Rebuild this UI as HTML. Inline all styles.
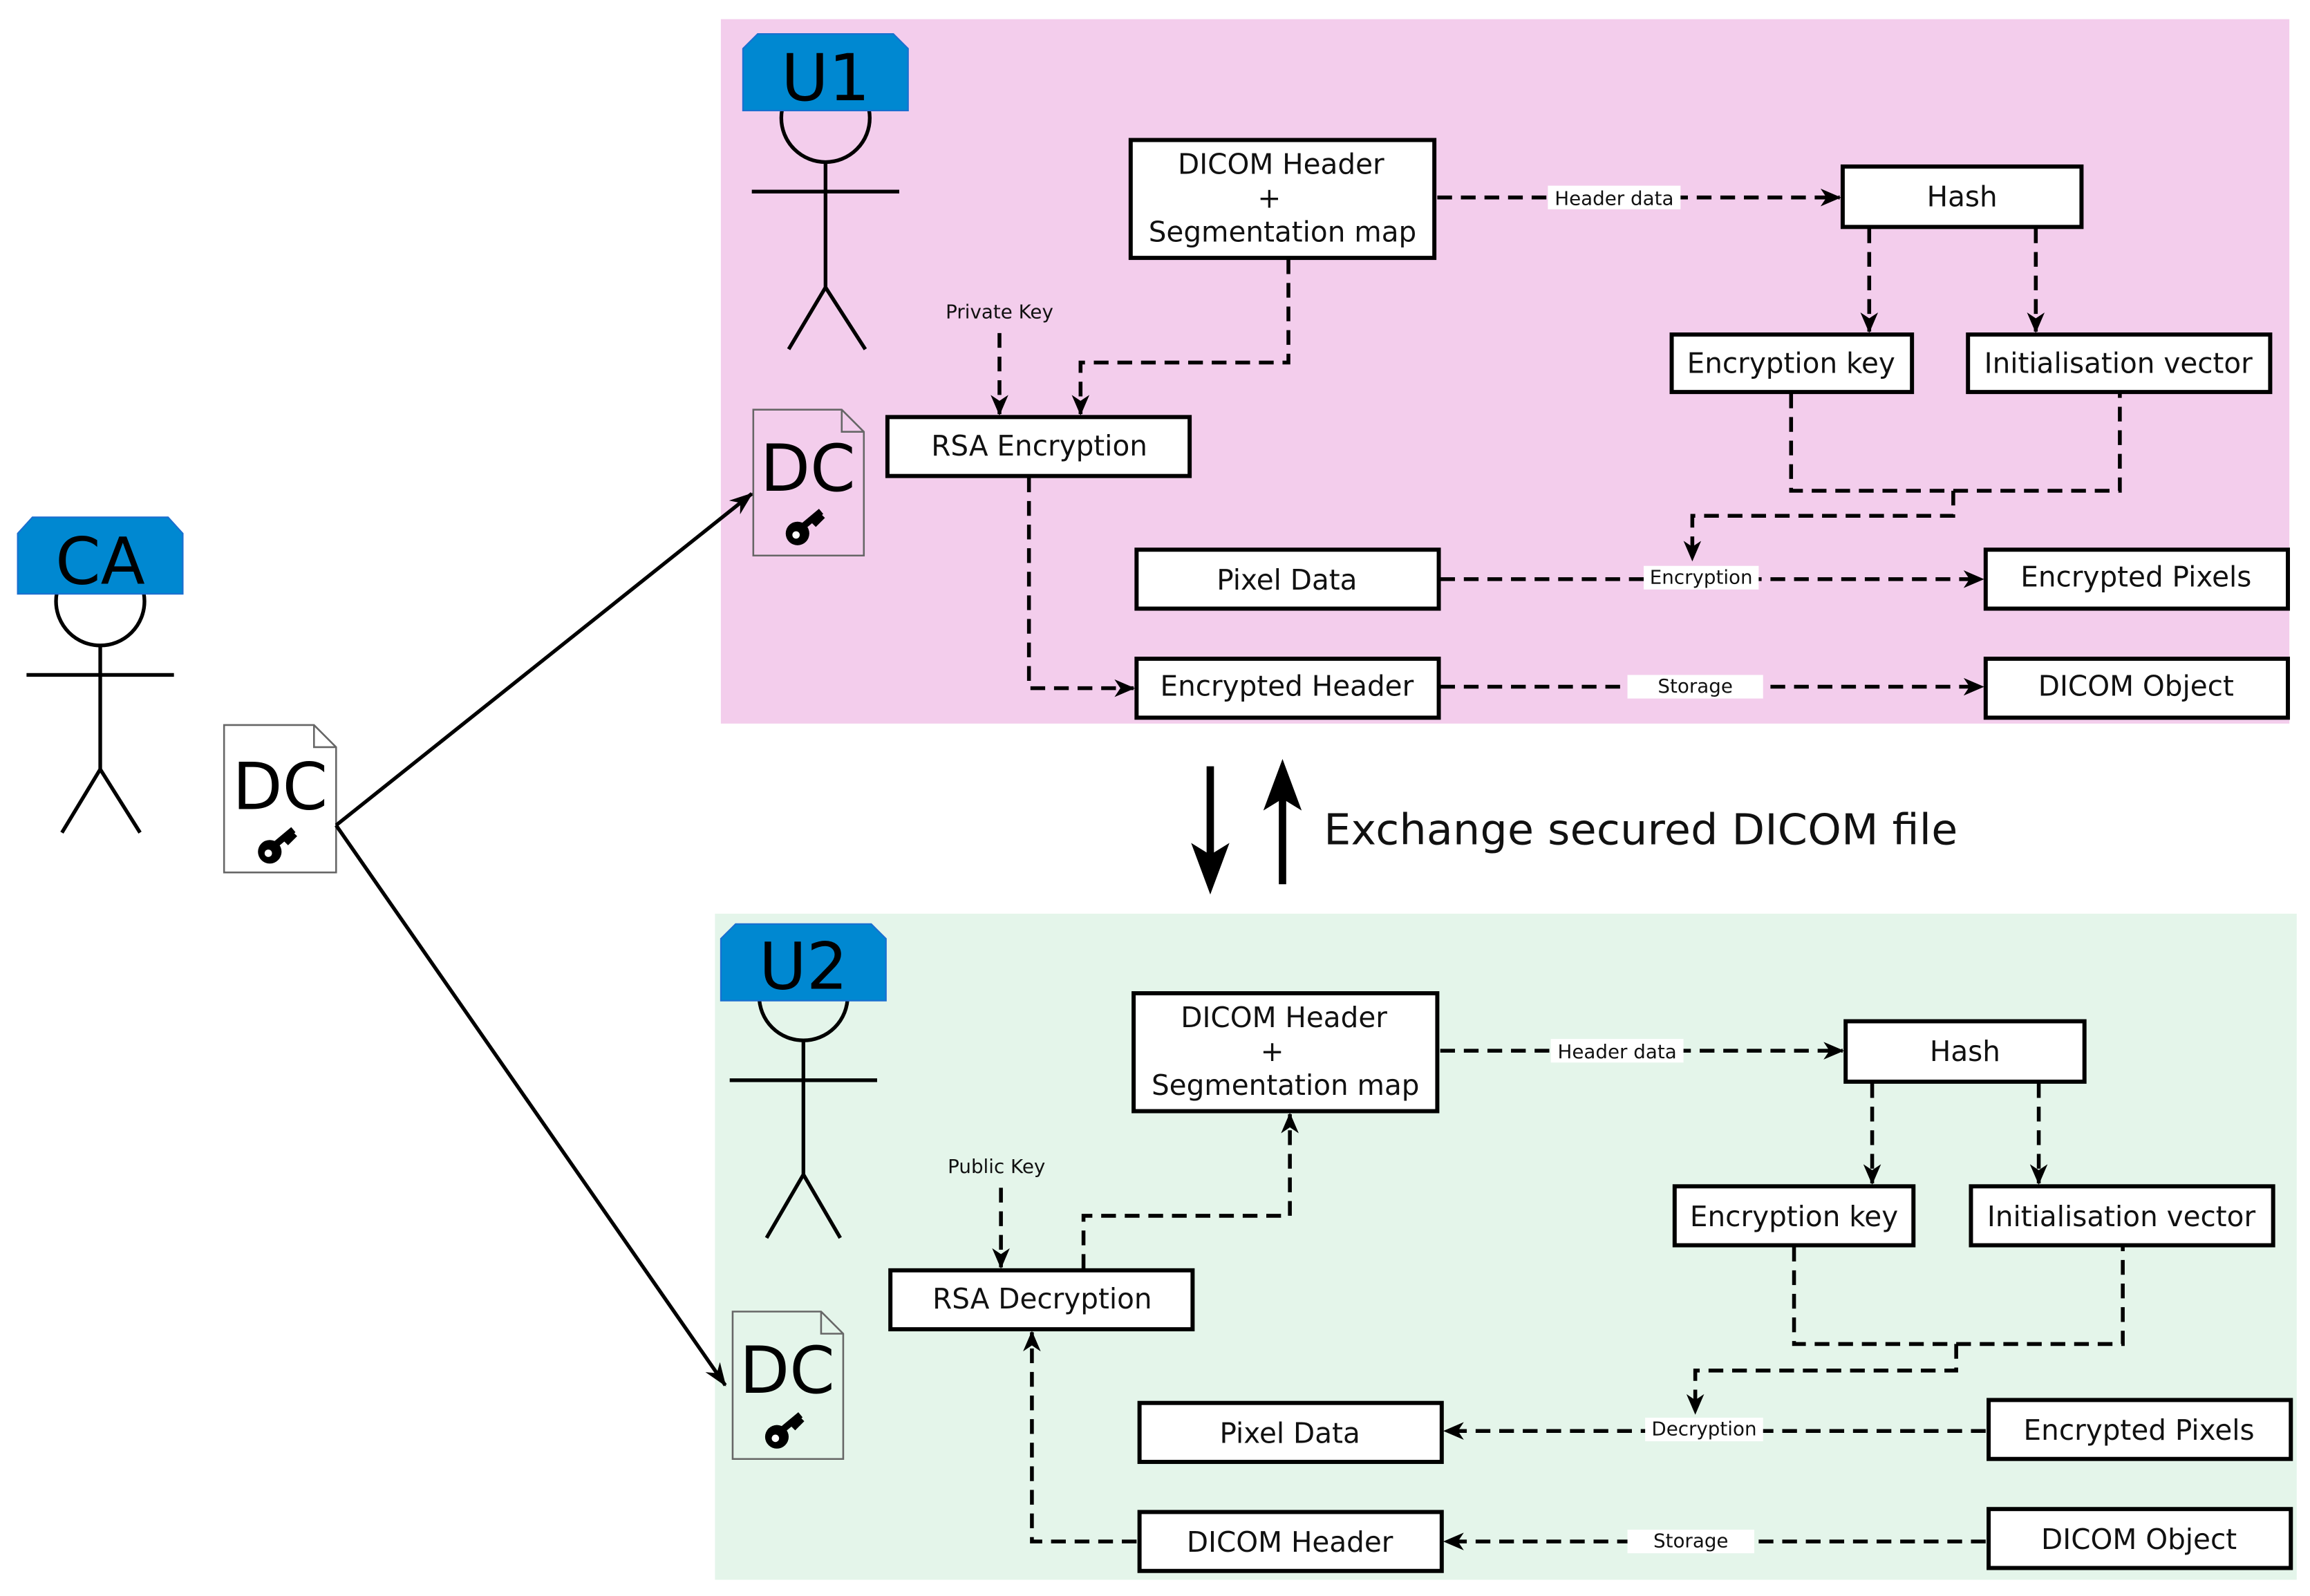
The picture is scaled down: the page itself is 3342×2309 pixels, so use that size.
<!DOCTYPE html>
<html><head><meta charset="utf-8"><style>
html,body{margin:0;padding:0;background:#fff;}
svg{display:block;}
text{font-family:"DejaVu Sans","Liberation Sans",sans-serif;fill:#111;}
.b{fill:#fff;stroke:#000;stroke-width:2.8;}
.t{font-size:19px;text-anchor:middle;}
.d{fill:none;stroke:#000;stroke-width:2.6;stroke-dasharray:10,6;}
.s{fill:none;stroke:#000;stroke-width:2.5;}
.l{font-size:13px;text-anchor:middle;}
.big{font-size:44px;text-anchor:middle;fill:#000;}
</style></head><body>
<svg width="3342" height="2309" viewBox="0 0 1567 1083" preserveAspectRatio="none" xmlns="http://www.w3.org/2000/svg">
<defs>
<marker id="a" viewBox="0 0 14 12" refX="13" refY="6" markerWidth="14" markerHeight="12" markerUnits="userSpaceOnUse" orient="auto">
<path d="M0,0 L14,6 L0,12 L4,6 z" fill="#000"/></marker>
<marker id="A" viewBox="0 0 16 12" refX="15" refY="6" markerWidth="16" markerHeight="12" markerUnits="userSpaceOnUse" orient="auto">
<path d="M0,0 L16,6 L0,12 L5,6 z" fill="#000"/></marker>
<g id="key"><circle cx="0" cy="0" r="8" fill="#000"/><circle cx="-1" cy="1" r="2.5" fill="#fff"/><path d="M4,-5 L16,-15 M10,-10 L14,-6 M13,-13 L17,-9" stroke="#000" stroke-width="4.5" fill="none"/></g>
</defs>
<rect x="0" y="0" width="1567" height="1083" fill="#fff"/>
<rect x="489" y="13" width="1064" height="478" fill="#f3cdec"/>
<rect x="485" y="620" width="1073" height="452" fill="#e4f5ea"/>

<!-- CA -->
<circle cx="68" cy="408" r="30" fill="none" stroke="#000" stroke-width="2.5"/>
<path d="M12,403 L12,362 L22,351 L114,351 L124,362 L124,403 Z" fill="#0088d1" stroke="#1a6fd0"/>
<text x="68" y="396" class="big">CA</text>
<path class="s" d="M68,438 V522 M18,458 H118 M68,522 L42,565 M68,522 L95,565"/>

<!-- U1 -->
<circle cx="560" cy="80" r="30" fill="none" stroke="#000" stroke-width="2.5"/>
<path d="M504,75 L504,33 L514,23 L606,23 L616,33 L616,75 Z" fill="#0088d1" stroke="#1a6fd0"/>
<text x="560" y="68" class="big">U1</text>
<path class="s" d="M560,110 V195 M510,130 H610 M560,195 L535,237 M560,195 L587,237"/>

<!-- U2 -->
<circle cx="545" cy="676" r="30" fill="none" stroke="#000" stroke-width="2.5"/>
<path d="M489,679 L489,637 L499,627 L591,627 L601,637 L601,679 Z" fill="#0088d1" stroke="#1a6fd0"/>
<text x="545" y="671" class="big">U2</text>
<path class="s" d="M545,706 V797 M495,733 H595 M545,797 L520,840 M545,797 L570,840"/>

<!-- DC docs -->
<g>
<path d="M152,492 H213 L228,507 V592 H152 Z M213,492 V507 H228" fill="#fff" stroke="#666" stroke-width="1.2"/>
<text x="190" y="549" class="big">DC</text><use href="#key" x="183" y="578"/>
</g>
<g>
<path d="M511,278 H571 L586,293 V377 H511 Z M571,278 V293 H586" fill="none" stroke="#666" stroke-width="1.2"/>
<text x="548" y="333" class="big">DC</text><use href="#key" x="541" y="362"/>
</g>
<g>
<path d="M497,890 H557 L572,905 V990 H497 Z M557,890 V905 H572" fill="none" stroke="#666" stroke-width="1.2"/>
<text x="534" y="945" class="big">DC</text><use href="#key" x="527" y="975"/>
</g>
<path class="s" d="M228,560 L510,335" marker-end="url(#A)"/>
<path class="s" d="M228,560 L492,940" marker-end="url(#A)"/>

<!-- exchange -->
<path d="M821,520 V600" stroke="#000" stroke-width="5"/><path d="M808,572 L821,607 L834,572 L821,580 Z" fill="#000"/>
<path d="M870,600 V522" stroke="#000" stroke-width="5"/><path d="M857,550 L870,515 L883,550 L870,542 Z" fill="#000"/>
<text x="898" y="573" style="font-size:29px" textLength="430">Exchange secured DICOM file</text>

<!-- U1 boxes -->
<rect class="b" x="767" y="95" width="206" height="80"/>
<text class="t" x="869" y="118">DICOM Header</text><text class="t" x="861" y="141">+</text><text class="t" x="870" y="164">Segmentation map</text>
<rect class="b" x="1250" y="113" width="162" height="41"/><text class="t" x="1331" y="140">Hash</text>
<rect class="b" x="1134" y="227" width="163" height="39"/><text class="t" x="1215" y="253">Encryption key</text>
<rect class="b" x="1335" y="227" width="205" height="39"/><text class="t" x="1437" y="253">Initialisation vector</text>
<rect class="b" x="602" y="283" width="205" height="40"/><text class="t" x="705" y="309">RSA Encryption</text>
<rect class="b" x="771" y="373" width="205" height="40"/><text class="t" x="873" y="400">Pixel Data</text>
<rect class="b" x="1347" y="373" width="205" height="40"/><text class="t" x="1449" y="398">Encrypted Pixels</text>
<rect class="b" x="771" y="447" width="205" height="40"/><text class="t" x="873" y="472">Encrypted Header</text>
<rect class="b" x="1347" y="447" width="205" height="40"/><text class="t" x="1449" y="472">DICOM Object</text>

<path class="d" d="M975,134 H1248" marker-end="url(#a)"/>
<rect x="1050" y="126" width="90" height="16" fill="#fff"/><text class="l" x="1095" y="139">Header data</text>
<path class="d" d="M1268,155 V225" marker-end="url(#a)"/>
<path class="d" d="M1381,155 V225" marker-end="url(#a)"/>
<path class="d" d="M1215,267 V333 H1438 V267 M1325,333 V350 H1148 V380" marker-end="url(#a)"/>
<text class="l" x="678" y="216">Private Key</text>
<path class="d" d="M678,226 V281" marker-end="url(#a)"/>
<path class="d" d="M874,176 V246 H733 V281" marker-end="url(#a)"/>
<path class="d" d="M698,324 V467 H769" marker-end="url(#a)"/>
<path class="d" d="M977,393 H1345" marker-end="url(#a)"/>
<rect x="1115" y="384" width="78" height="16" fill="#fff"/><text class="l" x="1154" y="396">Encryption</text>
<path class="d" d="M977,466 H1345" marker-end="url(#a)"/>
<rect x="1104" y="458" width="92" height="16" fill="#fff"/><text class="l" x="1150" y="470">Storage</text>

<!-- U2 boxes -->
<rect class="b" x="769" y="674" width="206" height="80"/>
<text class="t" x="871" y="697">DICOM Header</text><text class="t" x="863" y="720">+</text><text class="t" x="872" y="743">Segmentation map</text>
<rect class="b" x="1252" y="693" width="162" height="41"/><text class="t" x="1333" y="720">Hash</text>
<rect class="b" x="1136" y="805" width="162" height="40"/><text class="t" x="1217" y="832">Encryption key</text>
<rect class="b" x="1337" y="805" width="205" height="40"/><text class="t" x="1439" y="832">Initialisation vector</text>
<rect class="b" x="604" y="862" width="205" height="40"/><text class="t" x="707" y="888">RSA Decryption</text>
<rect class="b" x="773" y="952" width="205" height="40"/><text class="t" x="875" y="979">Pixel Data</text>
<rect class="b" x="1349" y="950" width="205" height="40"/><text class="t" x="1451" y="977">Encrypted Pixels</text>
<rect class="b" x="773" y="1026" width="205" height="40"/><text class="t" x="875" y="1053">DICOM Header</text>
<rect class="b" x="1349" y="1024" width="205" height="40"/><text class="t" x="1451" y="1051">DICOM Object</text>

<path class="d" d="M977,713 H1250" marker-end="url(#a)"/>
<rect x="1052" y="705" width="90" height="16" fill="#fff"/><text class="l" x="1097" y="718">Header data</text>
<path class="d" d="M1270,735 V803" marker-end="url(#a)"/>
<path class="d" d="M1383,735 V803" marker-end="url(#a)"/>
<path class="d" d="M1217,846 V912 H1440 V846 M1327,912 V930 H1150 V959" marker-end="url(#a)"/>
<text class="l" x="676" y="796">Public Key</text>
<path class="d" d="M679,806 V860" marker-end="url(#a)"/>
<path class="d" d="M735,861 V825 H875 V756" marker-end="url(#a)"/>
<path class="d" d="M1347,971 H980" marker-end="url(#a)"/>
<rect x="1116" y="962" width="80" height="16" fill="#fff"/><text class="l" x="1156" y="974">Decryption</text>
<path class="d" d="M1347,1046 H980" marker-end="url(#a)"/>
<rect x="1104" y="1038" width="86" height="16" fill="#fff"/><text class="l" x="1147" y="1050">Storage</text>
<path class="d" d="M771,1046 H700 V904" marker-end="url(#a)"/>
</svg>
</body></html>
